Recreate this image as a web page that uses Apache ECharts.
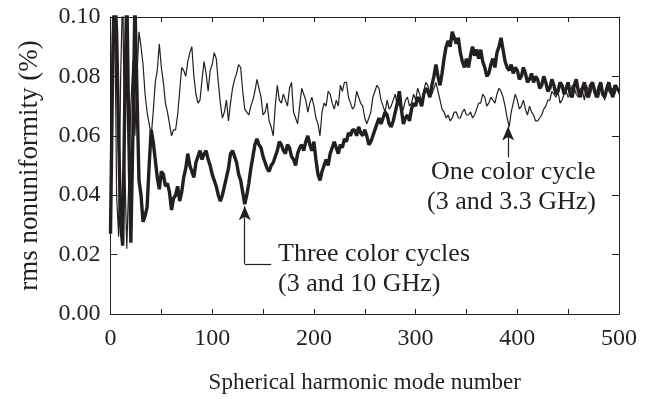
<!DOCTYPE html>
<html>
<head>
<meta charset="utf-8">
<script src="https://cdn.jsdelivr.net/npm/echarts@6/dist/echarts.min.js"></script>
<style>
  html, body { margin: 0; padding: 0; background: #fff; }
  #main { width: 647px; height: 399px; }
</style>
</head>
<body>
<div id="main"></div>
<script>
// mode numbers are sampled every 2 modes, 0..500
const modeStep = 2;

// three color cycles (3 and 10 GHz) - heavy line
const threeColor = [
  0.027, 0.080, 0.110, 0.095, 0.060, 0.030, 0.023, 0.070, 0.110, 0.060,
  0.024, 0.060, 0.105, 0.075, 0.045, 0.040, 0.031, 0.033, 0.036, 0.050,
  0.062, 0.058, 0.052, 0.046, 0.042, 0.048, 0.047, 0.043, 0.044, 0.041,
  0.035, 0.039, 0.040, 0.043, 0.038, 0.041, 0.046, 0.049, 0.054, 0.050,
  0.048, 0.046, 0.051, 0.053, 0.055, 0.052, 0.054, 0.055, 0.052, 0.050,
  0.047, 0.045, 0.043, 0.040, 0.038, 0.040, 0.043, 0.046, 0.049, 0.054,
  0.055, 0.053, 0.051, 0.047, 0.045, 0.041, 0.037, 0.040, 0.044, 0.049,
  0.053, 0.057, 0.059, 0.057, 0.056, 0.053, 0.051, 0.049, 0.048, 0.050,
  0.051, 0.053, 0.055, 0.058, 0.057, 0.055, 0.054, 0.057, 0.056, 0.053,
  0.052, 0.050, 0.054, 0.056, 0.057, 0.055, 0.058, 0.060, 0.057, 0.055,
  0.058, 0.052, 0.047, 0.045, 0.048, 0.050, 0.052, 0.050, 0.054, 0.056,
  0.058, 0.056, 0.054, 0.057, 0.056, 0.059, 0.058, 0.061, 0.060, 0.062,
  0.062, 0.060, 0.063, 0.061, 0.060, 0.062, 0.060, 0.057, 0.058, 0.060,
  0.062, 0.064, 0.066, 0.064, 0.066, 0.068, 0.067, 0.064, 0.063, 0.065,
  0.068, 0.071, 0.075, 0.069, 0.064, 0.066, 0.067, 0.065, 0.069, 0.071,
  0.070, 0.073, 0.072, 0.070, 0.074, 0.076, 0.075, 0.073, 0.077, 0.080,
  0.084, 0.080, 0.077, 0.081, 0.086, 0.090, 0.092, 0.090, 0.095, 0.093,
  0.091, 0.093, 0.088, 0.085, 0.083, 0.086, 0.083, 0.087, 0.090, 0.087,
  0.089, 0.086, 0.089, 0.085, 0.083, 0.080, 0.081, 0.084, 0.086, 0.083,
  0.088, 0.090, 0.093, 0.089, 0.085, 0.083, 0.082, 0.084, 0.081, 0.083,
  0.082, 0.079, 0.080, 0.083, 0.081, 0.078, 0.079, 0.081, 0.078, 0.080,
  0.079, 0.076, 0.077, 0.080, 0.078, 0.075, 0.076, 0.079, 0.077, 0.074,
  0.075, 0.078, 0.077, 0.074, 0.076, 0.078, 0.074, 0.073, 0.077, 0.079,
  0.075, 0.073, 0.076, 0.078, 0.074, 0.073, 0.077, 0.078, 0.075, 0.073,
  0.076, 0.078, 0.074, 0.073, 0.076, 0.078, 0.075, 0.073, 0.077, 0.076,
  0.075
];

// one color cycle (3 and 3.3 GHz) - light line
const oneColor = [
  0.050, 0.100, 0.110, 0.040, 0.026, 0.080, 0.110, 0.050, 0.022, 0.045,
  0.070, 0.085, 0.060, 0.080, 0.095, 0.090, 0.084, 0.074, 0.068, 0.064,
  0.060, 0.068, 0.078, 0.082, 0.091, 0.083, 0.078, 0.071, 0.068, 0.064,
  0.060, 0.062, 0.062, 0.067, 0.075, 0.083, 0.082, 0.080, 0.085, 0.088,
  0.090, 0.080, 0.074, 0.071, 0.072, 0.079, 0.085, 0.081, 0.075, 0.082,
  0.084, 0.088, 0.086, 0.078, 0.071, 0.066, 0.068, 0.072, 0.065, 0.071,
  0.076, 0.079, 0.081, 0.084, 0.083, 0.075, 0.069, 0.068, 0.067, 0.070,
  0.072, 0.075, 0.079, 0.076, 0.073, 0.067, 0.068, 0.071, 0.065, 0.063,
  0.060, 0.070, 0.077, 0.072, 0.071, 0.074, 0.072, 0.070, 0.076, 0.078,
  0.068, 0.066, 0.064, 0.070, 0.076, 0.074, 0.072, 0.068, 0.071, 0.073,
  0.070, 0.066, 0.064, 0.060, 0.068, 0.071, 0.070, 0.075, 0.074, 0.071,
  0.069, 0.072, 0.070, 0.077, 0.075, 0.078, 0.078, 0.073, 0.071, 0.069,
  0.070, 0.075, 0.073, 0.071, 0.070, 0.066, 0.064, 0.066, 0.068, 0.073,
  0.075, 0.077, 0.076, 0.072, 0.070, 0.068, 0.072, 0.069, 0.070, 0.072,
  0.074, 0.070, 0.071, 0.068, 0.069, 0.072, 0.073, 0.070, 0.071, 0.074,
  0.072, 0.076, 0.074, 0.071, 0.075, 0.078, 0.077, 0.073, 0.074, 0.076,
  0.078, 0.075, 0.072, 0.069, 0.068, 0.066, 0.067, 0.065, 0.066, 0.068,
  0.068, 0.066, 0.066, 0.068, 0.069, 0.067, 0.067, 0.068, 0.066, 0.067,
  0.069, 0.071, 0.071, 0.074, 0.073, 0.070, 0.071, 0.073, 0.072, 0.071,
  0.074, 0.076, 0.075, 0.073, 0.070, 0.066, 0.063, 0.068, 0.071, 0.074,
  0.072, 0.069, 0.070, 0.072, 0.069, 0.067, 0.070, 0.068, 0.067, 0.065,
  0.065, 0.066, 0.067, 0.069, 0.070, 0.072, 0.072, 0.075, 0.074, 0.073,
  0.075, 0.071, 0.072, 0.074, 0.075, 0.073, 0.074, 0.077, 0.076, 0.074,
  0.073, 0.076, 0.075, 0.072, 0.077, 0.075, 0.074, 0.077, 0.076, 0.073,
  0.073, 0.076, 0.075, 0.072, 0.077, 0.075, 0.074, 0.076, 0.074, 0.077,
  0.074
];

const xRange = [0, 500];
const yRange = [0, 0.10];
const labelThree = ['Three color cycles', '(3 and 10 GHz)'];
const labelOne = ['One color cycle', '(3 and 3.3 GHz)'];

const ink = '#231f20';
const serif = '"Liberation Serif", "Times New Roman", serif';

function toPairs(arr) {
  return arr.map(function (v, i) { return [i * modeStep, v]; });
}

var chart = echarts.init(document.getElementById('main'));

var xCommon = {
  type: 'value', min: xRange[0], max: xRange[1], interval: 50,
  axisLine: { onZero: false, lineStyle: { color: ink, width: 1 } },
  axisTick: { inside: true, length: 5, lineStyle: { color: ink, width: 1 } },
  splitLine: { show: false }
};
var yCommon = {
  type: 'value', min: yRange[0], max: yRange[1], interval: 0.02,
  axisLine: { show: true, onZero: false, lineStyle: { color: ink, width: 1 } },
  axisTick: { show: true, inside: true, length: 7, lineStyle: { color: ink, width: 1 } },
  splitLine: { show: false }
};

chart.setOption({
  animation: false,
  backgroundColor: '#fff',
  grid: { left: 110.5, right: 28, top: 17, bottom: 84 },
  xAxis: [
    Object.assign({}, xCommon, {
      position: 'bottom',
      axisLabel: {
        formatter: function (v) { return v % 100 === 0 ? String(v) : ''; },
        fontFamily: serif, fontSize: 24, color: ink, margin: 13
      },
      name: 'Spherical harmonic mode number',
      nameLocation: 'middle', nameGap: 57,
      nameTextStyle: { fontFamily: serif, fontSize: 23, color: ink }
    }),
    Object.assign({}, xCommon, { position: 'top', axisLabel: { show: false } })
  ],
  yAxis: [
    Object.assign({}, yCommon, {
      position: 'left',
      axisLabel: {
        formatter: function (v) { return v.toFixed(2); },
        fontFamily: serif, fontSize: 24, color: ink, margin: 10
      },
      name: 'rms nonuniformity (%)',
      nameLocation: 'middle', nameGap: 67,
      nameTextStyle: { fontFamily: serif, fontSize: 27, color: ink }
    }),
    Object.assign({}, yCommon, { position: 'right', axisLabel: { show: false } })
  ],
  series: [
    {
      name: 'One color cycle',
      type: 'line', data: toPairs(oneColor), showSymbol: false, clip: true,
      lineStyle: { color: ink, width: 1.2 },
      z: 3
    },
    {
      name: 'Three color cycles',
      type: 'line', data: toPairs(threeColor), showSymbol: false, clip: true,
      lineStyle: { color: ink, width: 3.4 },
      z: 4,
      markLine: {
        silent: true, animation: false,
        symbol: ['none', 'none'],
        label: { show: false },
        lineStyle: { color: ink, width: 1.2, type: 'solid' },
        emphasis: { disabled: true },
        data: [
          [{ coord: [132, 0.0169] }, { coord: [132, 0.0363], symbol: 'arrow', symbolSize: [9, 14] }],
          [{ coord: [132, 0.0169] }, { coord: [158, 0.0169] }],
          [{ coord: [391, 0.0527] }, { coord: [391, 0.0631], symbol: 'arrow', symbolSize: [9, 14] }]
        ]
      }
    }
  ],
  graphic: [
    { type: 'text', left: 278, top: 241, style: { text: labelThree[0], font: '26px ' + serif, fill: ink } },
    { type: 'text', left: 278, top: 271, style: { text: labelThree[1], font: '26px ' + serif, fill: ink } },
    { type: 'text', left: 431, top: 159, style: { text: labelOne[0], font: '26px ' + serif, fill: ink } },
    { type: 'text', left: 427, top: 189, style: { text: labelOne[1], font: '26px ' + serif, fill: ink } }
  ]
});
</script>
</body>
</html>
